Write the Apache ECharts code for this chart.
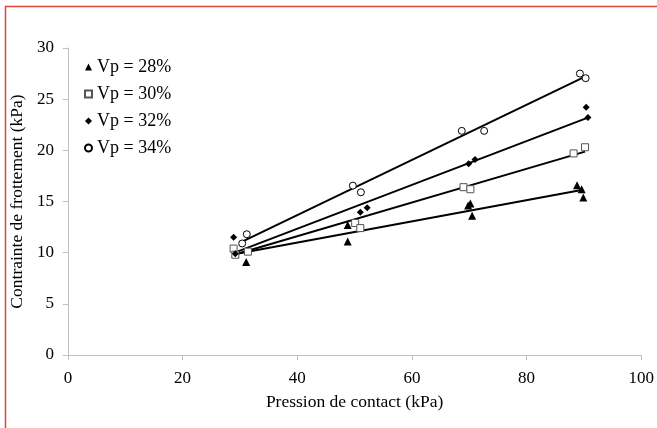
<!DOCTYPE html>
<html><head><meta charset="utf-8">
<script src="https://cdn.jsdelivr.net/npm/echarts@6/dist/echarts.min.js"></script>
<style>html,body{margin:0;padding:0;background:#fff}#c{width:657px;height:428px}</style>
</head><body><div id="c"></div>
<script>
var seriesNames = ['Vp = 28%', 'Vp = 30%', 'Vp = 32%', 'Vp = 34%'];
var xTicks = [0, 20, 40, 60, 80, 100];
var yTicks = [0, 5, 10, 15, 20, 25, 30];
var vp28 = [[29.2,9.9],[31.1,9.1],[48.8,12.7],[48.8,11.1],[69.8,14.6],[70.2,14.8],[70.5,13.6],[88.8,16.6],[89.6,16.2],[89.9,15.4]];
var vp30 = [[28.9,10.4],[29.2,9.8],[31.4,10.1],[50.1,12.9],[51.0,12.4],[69.0,16.4],[70.2,16.2],[88.2,19.7],[90.2,20.3]];
var vp32 = [[28.9,11.5],[29.2,9.9],[51.0,13.95],[52.2,14.4],[69.9,18.7],[71.0,19.1],[90.4,24.2],[90.7,23.2]];
var vp34 = [[30.4,10.9],[31.2,11.8],[49.7,16.55],[51.1,15.9],[68.7,21.9],[72.6,21.9],[89.3,27.5],[90.3,27.05]];
// trend lines (end points)
var trend28 = [[29.0,9.85],[89.6,16.13]];
var trend30 = [[29.0,9.8],[90.2,19.87]];
var trend32 = [[29.1,10.0],[90.7,23.2]];
var trend34 = [[30.4,11.07],[90.2,27.2]];

var F = '"Liberation Serif","Times New Roman",serif';
var chart = echarts.init(document.getElementById('c'), null, {renderer:'canvas'});
function sc(name, data, symbol, color, border, bw){
  return {type:'scatter', name:name, data:data, symbol:symbol, symbolSize: symbol==='triangle'?8:7,
    itemStyle:{color:color, borderColor:border, borderWidth:bw, opacity:1}, z:3};
}
function ln(data){
  return {type:'line', data:data, symbol:'none', lineStyle:{color:'#000', width:2}, z:2, silent:true};
}
chart.setOption({
  animation:false,
  backgroundColor:'#fff',
  graphic:[{type:'rect', shape:{x:5.5, y:6.5, width:800, height:600}, style:{fill:'none', stroke:'#d9463b', lineWidth:1.5}, z:-1}],
  grid:{left:67, right:12.5, top:48, bottom:73},
  legend:{orient:'vertical', left:79, top:53, itemWidth:7, itemHeight:7, itemGap:9,
    data:seriesNames, textStyle:{fontFamily:F, fontSize:18, color:'#000'}},
  xAxis:{type:'value', min:0, max:100, interval:20,
    name:'Pression de contact (kPa)', nameLocation:'middle', nameGap:38,
    nameTextStyle:{fontFamily:F, fontSize:17.5, color:'#000'},
    axisLine:{lineStyle:{color:'#bfbfbf', width:1}}, axisTick:{show:true, length:5, lineStyle:{color:'#bfbfbf'}},
    axisLabel:{fontFamily:F, fontSize:17, color:'#000', margin:15,
      formatter:function(v){return xTicks.indexOf(v)>=0?String(v):'';}},
    splitLine:{show:false}},
  yAxis:{type:'value', min:0, max:30, interval:5,
    name:'Contrainte de frottement (kPa)', nameLocation:'middle', nameGap:38, nameRotate:90,
    nameTextStyle:{fontFamily:F, fontSize:17.5, color:'#000'},
    axisLine:{show:true, lineStyle:{color:'#bfbfbf', width:1}}, axisTick:{show:true, length:5, lineStyle:{color:'#bfbfbf'}},
    axisLabel:{fontFamily:F, fontSize:17, color:'#000', margin:14,
      formatter:function(v){return yTicks.indexOf(v)>=0?String(v):'';}},
    splitLine:{show:false}},
  series:[
    ln(trend28), ln(trend30), ln(trend32), ln(trend34),
    sc(seriesNames[0], vp28, 'triangle', '#000', '#000', 0),
    sc(seriesNames[1], vp30, 'rect', '#fff', '#555', 1),
    sc(seriesNames[2], vp32, 'diamond', '#000', '#000', 0),
    sc(seriesNames[3], vp34, 'circle', '#fff', '#000', 1)
  ]
});
</script></body></html>
